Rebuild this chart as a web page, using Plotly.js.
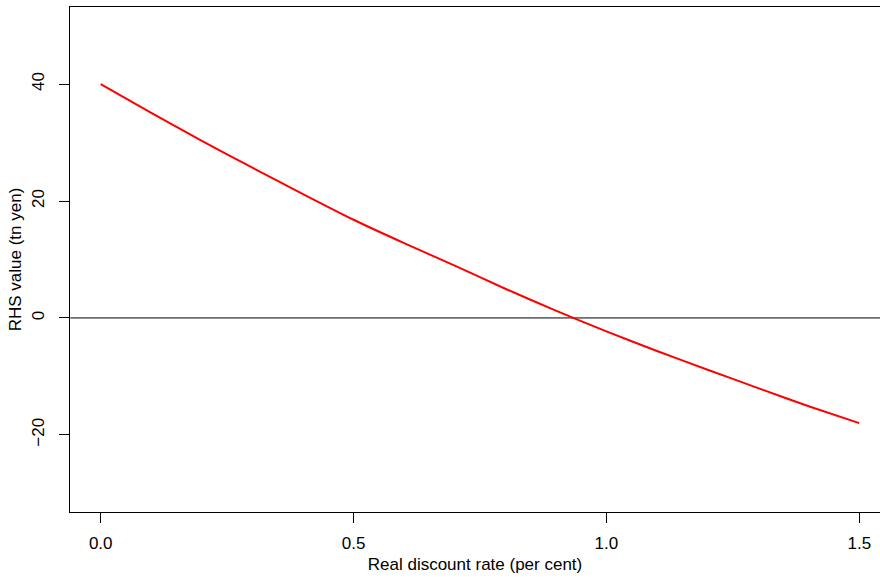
<!DOCTYPE html>
<html>
<head>
<meta charset="utf-8">
<script src="https://cdn.plot.ly/plotly-3.0.1.min.js"></script>
<style>html,body{margin:0;padding:0;background:#fff;}#chart{width:880px;height:579px;}</style>
</head>
<body>
<div id="chart"></div>
<script>
const rate = [0.0, 0.1, 0.2, 0.3, 0.4, 0.5, 0.6, 0.7, 0.8, 0.9, 1.0, 1.1, 1.2, 1.3, 1.4, 1.5];
const rhsValue = [40.0, 35.1, 30.3, 25.7, 21.2, 16.8, 12.8, 8.95, 5.0, 1.25, -2.3, -5.65, -8.86, -12.0, -15.1, -18.0];
const xTicks = [0.0, 0.5, 1.0, 1.5];
const xTickLabels = ["0.0", "0.5", "1.0", "1.5"];
const yTicks = [-20, 0, 20, 40];
const yTickLabels = ["\u221220", "0", "20", "40"];
const zeroLineX = [-0.06, 1.56];
const zeroLineY = [0, 0];

const font = "Liberation Sans, Arial, Helvetica, sans-serif";

const traces = [
  {x: zeroLineX, y: zeroLineY, mode: "lines", line: {color: "#000", width: 1}, hoverinfo: "skip", showlegend: false},
  {x: rate, y: rhsValue, mode: "lines", line: {color: "#ff0000", width: 2, shape: "spline", smoothing: 0.6}, showlegend: false}
];

const layout = {
  width: 880, height: 579,
  margin: {l: 70, r: 0, t: 7, b: 67, pad: 0},
  paper_bgcolor: "#fff", plot_bgcolor: "#fff",
  font: {family: font, size: 17, color: "#000"},
  showlegend: false,
  xaxis: {
    range: [-0.0607, 1.541], showgrid: false, zeroline: false,
    showline: true, linecolor: "#000", linewidth: 1, mirror: true,
    ticks: "outside", ticklen: 10, tickwidth: 1, tickcolor: "#000",
    tickvals: xTicks, ticktext: xTickLabels, ticklabelstandoff: 6,
    tickfont: {family: font, size: 17},
    title: {text: "Real discount rate (per cent)", font: {family: font, size: 17}, standoff: 5}
  },
  yaxis: {
    range: [-33.2, 53.2], showgrid: false, zeroline: false,
    showline: true, linecolor: "#000", linewidth: 1, mirror: false,
    ticks: "outside", ticklen: 10, tickwidth: 1, tickcolor: "#000",
    tickvals: yTicks, ticktext: yTickLabels, tickangle: -90, ticklabelstandoff: 8,
    tickfont: {family: font, size: 17},
    title: {text: "RHS value (tn yen)", font: {family: font, size: 17}, standoff: 3}
  }
};

Plotly.newPlot("chart", traces, layout, {staticPlot: true, displayModeBar: false});
</script>
</body>
</html>
